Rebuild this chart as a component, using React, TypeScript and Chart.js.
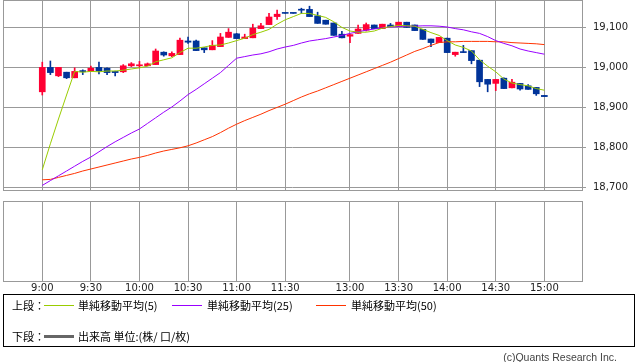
import React, { useEffect, useRef } from 'react';
import { Chart, registerables } from 'chart.js';

Chart.register(...registerables);

// 5-minute candles, index 0 = 9:00 ... index 62 = 15:00
const opens = [
  18938, 18999, 18978, 18987, 18973, 18991, 18989, 18999, 18997, 18989,
  18988, 19003, 19003, 19003, 19006, 19037, 19028, 19031, 19065, 19065,
  19048, 19043, 19051, 19074, 19083, 19071, 19073, 19096, 19106, 19126,
  19134, 19134, 19142, 19144, 19128, 19117, 19110, 19082, 19077, 19084,
  19092, 19105, 19096, 19105, 19101, 19112, 19105, 19094, 19070, 19061,
  19072, 19031, 19038, 19041, 19017, 18969, 18959, 18972, 18948, 18959,
  18953, 18949, 18929,
];
const highs = [
  19012, 19015, 18999, 18987, 18998, 18993, 19002, 19012, 18998, 18990,
  19006, 19011, 19014, 19010, 19045, 19038, 19038, 19072, 19075, 19067,
  19048, 19066, 19084, 19096, 19084, 19082, 19107, 19109, 19134, 19142,
  19134, 19134, 19147, 19152, 19137, 19117, 19110, 19089, 19081, 19105,
  19110, 19105, 19107, 19109, 19112, 19112, 19105, 19094, 19070, 19074,
  19072, 19037, 19054, 19041, 19017, 18969, 18969, 18973, 18969, 18959,
  18956, 18949, 18929,
];
const lows = [
  18930, 18981, 18976, 18971, 18973, 18981, 18989, 18983, 18981, 18978,
  18986, 19001, 18998, 19003, 19006, 19027, 19026, 19031, 19059, 19041,
  19036, 19043, 19051, 19074, 19071, 19071, 19073, 19096, 19106, 19119,
  19134, 19134, 19134, 19126, 19109, 19107, 19079, 19073, 19061, 19084,
  19090, 19096, 19096, 19101, 19101, 19099, 19091, 19069, 19051, 19061,
  19036, 19027, 19036, 19008, 18951, 18938, 18941, 18946, 18948, 18942,
  18944, 18929, 18926,
];
const closes = [
  18999, 18986, 18999, 18973, 18989, 18988, 18997, 18990, 18986, 18986,
  19003, 19008, 19005, 19008, 19040, 19030, 19034, 19067, 19062, 19041,
  19043, 19054, 19075, 19087, 19071, 19075, 19097, 19103, 19125, 19132,
  19134, 19134, 19142, 19126, 19109, 19107, 19079, 19073, 19081, 19095,
  19106, 19096, 19107, 19101, 19112, 19099, 19091, 19069, 19061, 19074,
  19036, 19037, 19036, 19016, 18963, 18957, 18969, 18946, 18962, 18945,
  18944, 18933, 18926,
];
const ma5 = [
  18743, 18808, 18870, 18930, 18989, 18987, 18989, 18988, 18990, 18990,
  18992, 18995, 18998, 19002, 19013, 19018, 19023, 19036, 19047, 19047,
  19050, 19054, 19055, 19060, 19066, 19072, 19081, 19087, 19094, 19107,
  19118, 19126, 19134, 19134, 19129, 19124, 19113, 19099, 19090, 19087,
  19087, 19090, 19097, 19101, 19104, 19103, 19102, 19094, 19086, 19079,
  19066, 19055, 19049, 19040, 19018, 19002, 18988, 18970, 18960, 18956,
  18953, 18946, 18942,
];
const ma25 = [
  18704, 18716, 18728, 18740, 18752, 18764, 18775, 18788, 18801, 18813,
  18824, 18835, 18845, 18859, 18873, 18887, 18900, 18915, 18931, 18944,
  18958, 18972, 18986, 19004, 19022, 19026, 19030, 19033, 19038, 19045,
  19050, 19054, 19060, 19065, 19068, 19071, 19075, 19079, 19084, 19088,
  19092, 19095, 19098, 19100, 19101, 19102, 19102, 19103, 19103, 19102,
  19100, 19096, 19093, 19088, 19084, 19076, 19066, 19059, 19053, 19045,
  19040, 19036, 19032,
];
const ma50 = [
  18718, 18719, 18724, 18729, 18734, 18740, 18745, 18750, 18755, 18760,
  18765, 18770, 18774, 18779, 18785, 18790, 18794, 18798, 18803, 18810,
  18818, 18826, 18836, 18847, 18857, 18866, 18874, 18882, 18891, 18899,
  18907, 18916, 18925, 18933, 18940, 18948, 18956, 18964, 18972, 18980,
  18988, 18996, 19004, 19012, 19021, 19030, 19039, 19046, 19054, 19061,
  19063, 19063, 19064, 19064, 19064, 19064, 19063, 19063, 19061, 19060,
  19059, 19058, 19056,
];
const timeTickIndex = [0, 6, 12, 18, 24, 30, 38, 44, 50, 56, 62];
const timeTickLabels = ['9:00', '9:30', '10:00', '10:30', '11:00', '11:30', '13:00', '13:30', '14:00', '14:30', '15:00'];
const priceTicks = [18700, 18800, 18900, 19000, 19100];

const GRID = '#999999';
const UP = '#ff0033';
const DOWN = '#003399';
const X_MIN = -4.85;
const X_MAX = 66.65;
const Y_MIN = 18692.5;
const Y_MAX = 19167.5;
const AXIS_FONT = { family: 'DejaVu Sans', size: 10 };

const framePlugin = {
  id: 'frame',
  afterDraw(chart: any) {
    const { ctx, chartArea: a } = chart;
    ctx.save();
    ctx.strokeStyle = GRID;
    ctx.lineWidth = 1;
    ctx.strokeRect(Math.round(a.left) + 0.5, Math.round(a.top) + 0.5, Math.round(a.right - a.left), Math.round(a.bottom - a.top));
    ctx.restore();
  },
};

export default function App() {
  const topRef = useRef<HTMLCanvasElement>(null);
  const botRef = useRef<HTMLCanvasElement>(null);

  useEffect(() => {
    const idx = opens.map((_, i) => i);
    const colors = idx.map((i) => (closes[i] > opens[i] ? UP : DOWN));
    const line = (label: string, values: number[], color: string) => ({
      type: 'line' as const,
      label,
      data: values.map((v, i) => ({ x: i, y: v })),
      borderColor: color,
      borderWidth: 1,
      pointRadius: 0,
      tension: 0,
      fill: false,
      order: 0,
    });

    const top = new Chart(topRef.current!, {
      type: 'bar',
      data: {
        datasets: [
          line('単純移動平均(5)', ma5, '#99cc00'),
          line('単純移動平均(25)', ma25, '#9900ff'),
          line('単純移動平均(50)', ma50, '#ff3300'),
          {
            type: 'bar',
            label: 'wick',
            data: idx.map((i) => ({ x: i, y: [lows[i], highs[i]] })) as any,
            backgroundColor: colors,
            barThickness: 1,
            grouped: false,
            borderWidth: 0,
            order: 2,
          },
          {
            type: 'bar',
            label: 'body',
            data: idx.map((i) => ({ x: i, y: [opens[i], closes[i]] })) as any,
            backgroundColor: colors,
            barThickness: 6,
            grouped: false,
            borderWidth: 0,
            minBarLength: 1,
            order: 1,
          },
        ] as any,
      },
      options: {
        responsive: false,
        animation: false,
        events: [],
        layout: { padding: { left: 3, top: 0, right: 0, bottom: 10 } },
        plugins: { legend: { display: false }, tooltip: { enabled: false } },
        scales: {
          x: {
            type: 'linear',
            min: X_MIN,
            max: X_MAX,
            offset: false,
            afterBuildTicks: (s: any) => {
              s.ticks = timeTickIndex.map((v) => ({ value: v }));
            },
            ticks: { display: false },
            grid: { color: GRID, drawTicks: false, offset: false },
            border: { display: false },
            afterFit: (s: any) => {
              s.height = 0;
              s.paddingLeft = 0;
              s.paddingRight = 0;
            },
          },
          y: {
            type: 'linear',
            position: 'right',
            min: Y_MIN,
            max: Y_MAX,
            beginAtZero: false,
            afterBuildTicks: (s: any) => {
              s.ticks = priceTicks.map((v) => ({ value: v }));
            },
            ticks: {
              color: '#222',
              font: AXIS_FONT,
              padding: 7,
              callback: (v: any) => Number(v).toLocaleString('en-US'),
            },
            grid: { color: GRID, tickLength: 4 },
            border: { display: false },
            afterFit: (s: any) => {
              s.width = 56;
              s.paddingTop = 0;
              s.paddingBottom = 0;
            },
          },
        },
      } as any,
      plugins: [framePlugin],
    });

    const bot = new Chart(botRef.current!, {
      type: 'bar',
      data: { datasets: [] },
      options: {
        responsive: false,
        animation: false,
        events: [],
        layout: { padding: { left: 3, top: 6, right: 56, bottom: 0 } },
        plugins: { legend: { display: false }, tooltip: { enabled: false } },
        scales: {
          x: {
            type: 'linear',
            min: X_MIN,
            max: X_MAX,
            offset: false,
            afterBuildTicks: (s: any) => {
              s.ticks = timeTickIndex.map((v) => ({ value: v }));
            },
            ticks: {
              autoSkip: false,
              maxRotation: 0,
              color: '#222',
              font: AXIS_FONT,
              padding: 1,
              callback: (_v: any, i: number) => timeTickLabels[i],
            },
            grid: { color: GRID, drawTicks: false, offset: false },
            border: { display: false },
            afterFit: (s: any) => {
              s.height = 14;
              s.paddingLeft = 0;
              s.paddingRight = 0;
            },
          },
          y: { display: false, min: 0, max: 1 },
        },
      } as any,
      plugins: [framePlugin],
    });

    return () => {
      top.destroy();
      bot.destroy();
    };
  }, []);

  const jp: React.CSSProperties = {
    position: 'absolute',
    fontFamily: "'Noto Sans CJK JP', sans-serif",
    fontSize: 11,
    lineHeight: '14px',
    color: '#000',
    whiteSpace: 'nowrap',
  };
  const swatch = (left: number, topPx: number, color: string, h = 1): React.CSSProperties => ({
    position: 'absolute',
    left,
    top: topPx,
    width: 30,
    height: h,
    background: color,
  });

  return (
    <div style={{ position: 'fixed', left: 0, top: 0, width: 638, height: 362, background: '#fff', overflow: 'hidden' }}>
      <canvas ref={topRef} width={638} height={200} style={{ position: 'absolute', left: 0, top: 0, display: 'block' }} />
      <canvas ref={botRef} width={638} height={100} style={{ position: 'absolute', left: 0, top: 195, display: 'block' }} />
      <div style={{ position: 'absolute', left: 3, top: 294, width: 632, height: 53, border: '1px solid #000', boxSizing: 'border-box' }} />
      <span style={{ ...jp, left: 12, top: 298 }}>上段：</span>
      <div style={swatch(44, 305, '#99cc00')} />
      <span style={{ ...jp, left: 78, top: 298 }}>単純移動平均(5)</span>
      <div style={swatch(172, 305, '#9900ff')} />
      <span style={{ ...jp, left: 207, top: 298 }}>単純移動平均(25)</span>
      <div style={swatch(316, 305, '#ff3300')} />
      <span style={{ ...jp, left: 351, top: 298 }}>単純移動平均(50)</span>
      <span style={{ ...jp, left: 12, top: 329 }}>下段：</span>
      <div style={swatch(44, 335, '#666666', 3)} />
      <span style={{ ...jp, left: 78, top: 329 }}>出来高 単位:(株/ 口/枚)</span>
      <span
        style={{
          position: 'absolute',
          right: 21,
          top: 351,
          fontFamily: "'Liberation Sans', sans-serif",
          fontSize: 10.5,
          lineHeight: '12px',
          color: '#444',
          whiteSpace: 'nowrap',
        }}
      >
        (c)Quants Research Inc.
      </span>
    </div>
  );
}
